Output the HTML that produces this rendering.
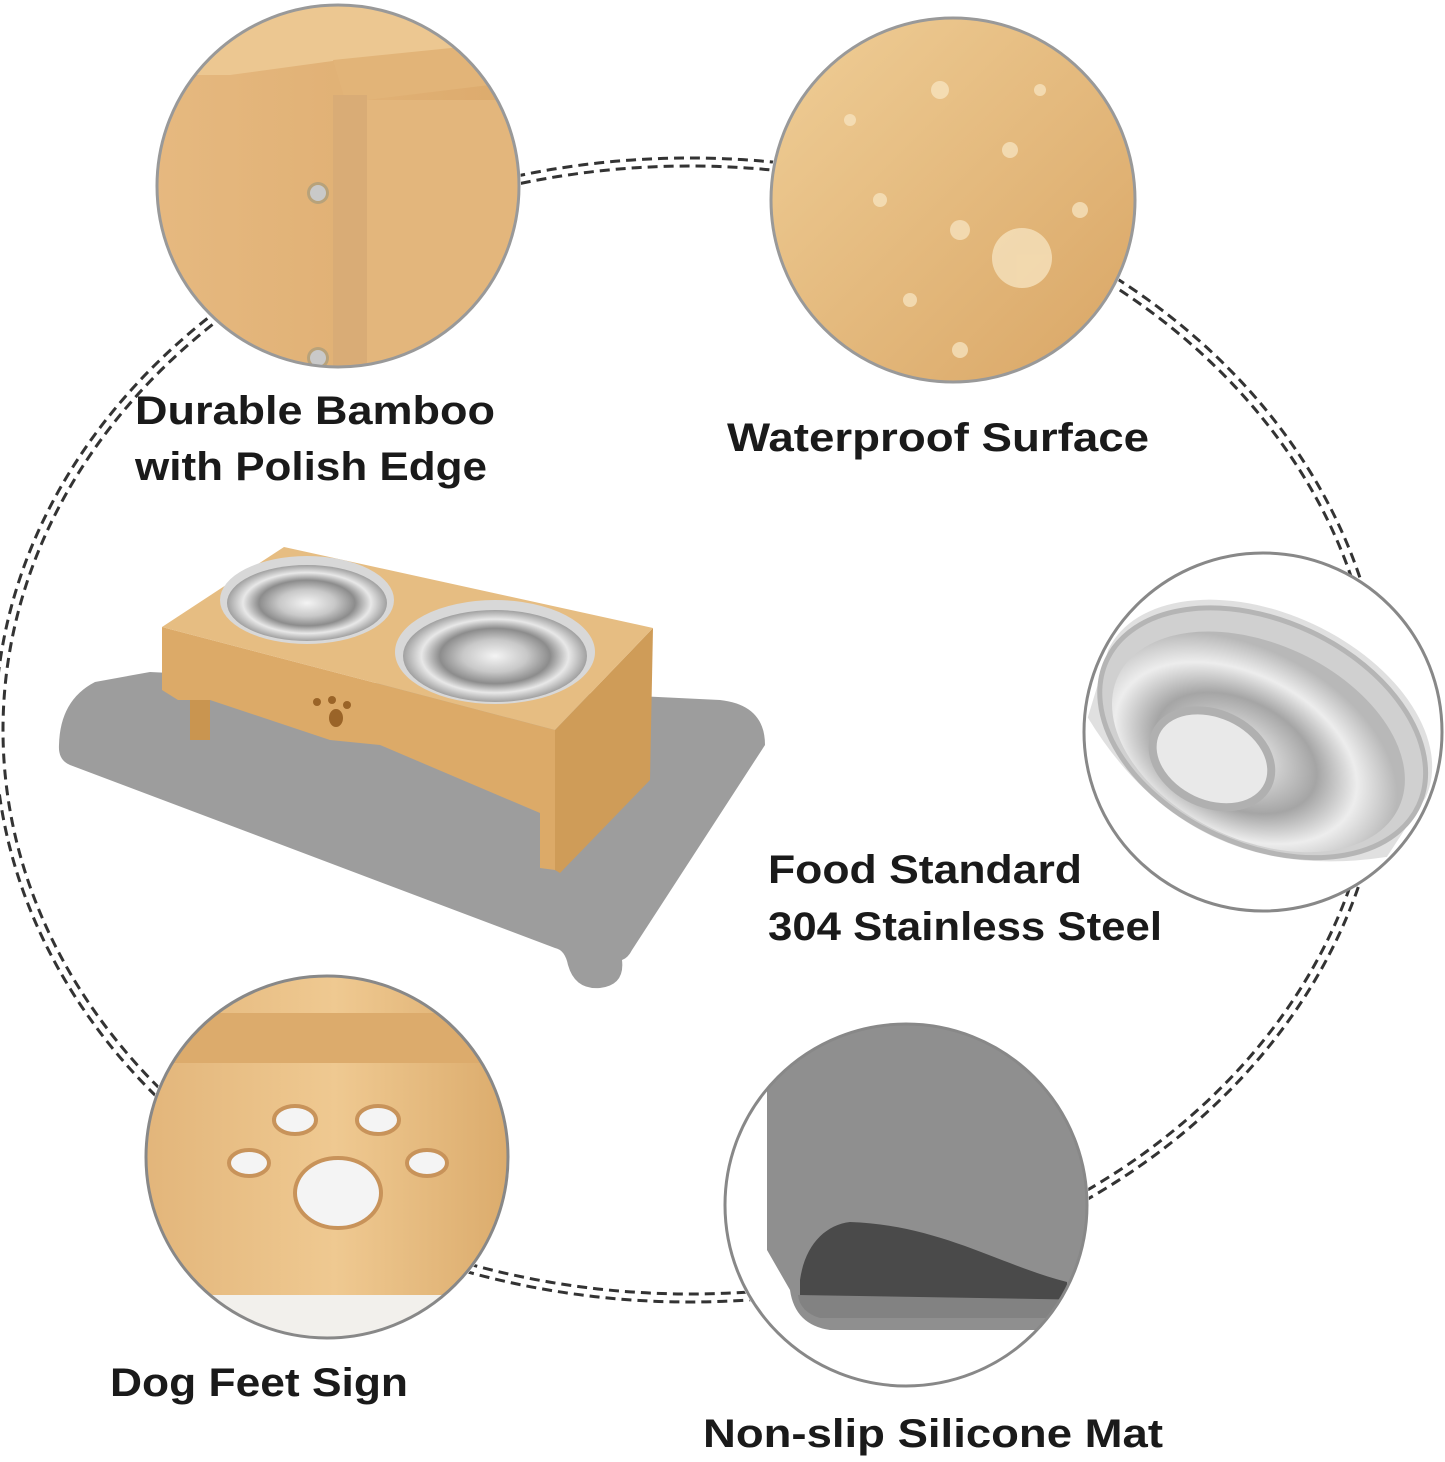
<!DOCTYPE html>
<html><head><meta charset="utf-8"><style>
html,body{margin:0;padding:0;background:#fff;width:1445px;height:1462px;overflow:hidden}
text{font-family:"Liberation Sans",sans-serif;font-weight:bold;fill:#1a1a1a}
</style></head><body>
<svg width="1445" height="1462" viewBox="0 0 1445 1462" xmlns="http://www.w3.org/2000/svg">
<defs>
<linearGradient id="bam" x1="0" y1="0" x2="1" y2="0">
<stop offset="0" stop-color="#e2b57a"/><stop offset="0.5" stop-color="#efc991"/><stop offset="1" stop-color="#d9a868"/></linearGradient>
<linearGradient id="bamL" x1="0" y1="0" x2="1" y2="0">
<stop offset="0" stop-color="#e6b980"/><stop offset="1" stop-color="#dcaa6c"/></linearGradient>
<linearGradient id="bam2" x1="0" y1="0" x2="1" y2="1">
<stop offset="0" stop-color="#f0cf98"/><stop offset="1" stop-color="#d8a463"/></linearGradient>
<radialGradient id="steel" cx="0.5" cy="0.5" r="0.5">
<stop offset="0" stop-color="#f4f4f4"/><stop offset="0.35" stop-color="#c8c8c8"/><stop offset="0.6" stop-color="#8c8c8c"/><stop offset="0.8" stop-color="#e8e8e8"/><stop offset="1" stop-color="#a0a0a0"/></radialGradient>
<radialGradient id="steel2" cx="0.45" cy="0.6" r="0.55">
<stop offset="0" stop-color="#f2f2f2"/><stop offset="0.25" stop-color="#d0d0d0"/><stop offset="0.5" stop-color="#a5a5a5"/><stop offset="0.75" stop-color="#ededed"/><stop offset="1" stop-color="#b8b8b8"/></radialGradient>
<clipPath id="c1"><circle cx="338" cy="186" r="181"/></clipPath>
<clipPath id="c2"><circle cx="953" cy="200" r="182"/></clipPath>
<clipPath id="c4"><circle cx="327" cy="1157" r="181"/></clipPath>
<clipPath id="c5"><circle cx="906" cy="1205" r="181"/></clipPath>
</defs>
<!-- dashed ellipse -->
<ellipse cx="690" cy="730" rx="695" ry="572" fill="none" stroke="#333" stroke-width="3" stroke-dasharray="10 6"/>
<ellipse cx="690" cy="730" rx="687" ry="564" fill="none" stroke="#333" stroke-width="3" stroke-dasharray="10 6"/>

<!-- circle 1 -->
<circle cx="338" cy="186" r="183" fill="#fff"/>
<g clip-path="url(#c1)">
<rect x="150" y="0" width="380" height="380" fill="url(#bamL)"/>
<polygon points="150,0 530,0 530,45 340,60 230,75 150,75" fill="#ecc791"/>
<polygon points="333,60 530,40 530,80 367,100 345,100" fill="#e2b478"/>
<rect x="333" y="95" width="34" height="290" fill="#d9ac76"/>
<rect x="367" y="100" width="170" height="290" fill="#e3b67c"/>
<circle cx="318" cy="193" r="11" fill="#b8a27a"/><circle cx="318" cy="193" r="8" fill="#c9c9c9"/>
<circle cx="318" cy="358" r="11" fill="#b8a27a"/><circle cx="318" cy="358" r="8" fill="#c9c9c9"/>
</g>
<circle cx="338" cy="186" r="181" fill="none" stroke="#999" stroke-width="3"/>

<!-- circle 2 -->
<circle cx="953" cy="200" r="184" fill="#fff"/>
<g clip-path="url(#c2)">
<rect x="760" y="10" width="390" height="390" fill="url(#bam2)"/>
<g fill="#f6e2bd" opacity="0.8">
<circle cx="1022" cy="258" r="30"/><circle cx="940" cy="90" r="9"/><circle cx="1010" cy="150" r="8"/><circle cx="880" cy="200" r="7"/><circle cx="960" cy="230" r="10"/><circle cx="850" cy="120" r="6"/><circle cx="1080" cy="210" r="8"/><circle cx="1040" cy="90" r="6"/><circle cx="910" cy="300" r="7"/><circle cx="960" cy="350" r="8"/></g>
</g>
<circle cx="953" cy="200" r="182" fill="none" stroke="#999" stroke-width="3"/>

<!-- circle 3 -->
<circle cx="1263" cy="732" r="179" fill="#fff" stroke="#888" stroke-width="3"/>
<g transform="rotate(25 1250 760)">
<path d="M1075 720 A175 110 0 0 1 1425 720 L1415 790 Q1250 900 1085 790Z" fill="#e0e0e0"/>
<ellipse cx="1250" cy="730" rx="172" ry="112" fill="#d0d0d0" stroke="#b5b5b5" stroke-width="5"/>
<ellipse cx="1250" cy="740" rx="155" ry="98" fill="url(#steel2)"/>
<ellipse cx="1215" cy="775" rx="62" ry="45" fill="#e9e9e9" stroke="#b0b0b0" stroke-width="8"/>
</g>

<!-- circle 4 -->
<circle cx="327" cy="1157" r="183" fill="#fff"/>
<g clip-path="url(#c4)">
<rect x="140" y="970" width="390" height="390" fill="url(#bam)"/>
<rect x="140" y="1013" width="390" height="50" fill="#dcab6c"/>
<rect x="140" y="1295" width="390" height="70" fill="#f2f0ec"/>
<g fill="#f4f4f4" stroke="#c8935a" stroke-width="4">
<ellipse cx="295" cy="1120" rx="21" ry="14"/><ellipse cx="378" cy="1120" rx="21" ry="14"/>
<ellipse cx="249" cy="1163" rx="20" ry="13"/><ellipse cx="427" cy="1163" rx="20" ry="13"/>
<ellipse cx="338" cy="1193" rx="43" ry="35"/></g>
</g>
<circle cx="327" cy="1157" r="181" fill="none" stroke="#888" stroke-width="3"/>

<!-- circle 5 -->
<circle cx="906" cy="1205" r="183" fill="#fff"/>
<g clip-path="url(#c5)">
<path d="M767 1000 H1100 V1280 L1100 1330 L830 1330 Q795 1325 790 1290 L767 1250Z" fill="#8f8f8f"/>
<path d="M800 1280 C805 1245 825 1225 850 1222 C940 1225 1000 1265 1067 1282 L1067 1300 L800 1300Z" fill="#4a4a4a"/>
<path d="M798 1295 L1100 1300 V1318 L820 1318 Q800 1312 798 1295Z" fill="#828282"/>
</g>
<circle cx="906" cy="1205" r="181" fill="none" stroke="#888" stroke-width="3"/>

<!-- central product: mat -->
<path d="M59 745 Q60 700 95 682 L150 672 L720 700 Q765 705 765 745 L632 950 Q628 958 622 960 Q625 985 600 988 Q575 990 568 965 Q565 950 555 948 L70 765 Q58 760 59 745Z" fill="#9d9d9d"/>
<!-- stand -->
<polygon points="190,690 210,690 210,740 190,740" fill="#c99550"/>
<polygon points="162,627 555,730 555,870 540,868 540,813 380,745 330,740 210,700 178,700 162,690" fill="#dcaa68"/>
<polygon points="555,730 653,628 650,780 560,873 555,870" fill="#cf9c58"/>
<polygon points="162,627 284,547 653,628 555,730" fill="#e6bd82"/>
<ellipse cx="307" cy="600" rx="87" ry="44" fill="#d8d8d8"/>
<ellipse cx="307" cy="603" rx="80" ry="38" fill="url(#steel)"/>
<ellipse cx="495" cy="652" rx="100" ry="52" fill="#d8d8d8"/>
<ellipse cx="495" cy="656" rx="92" ry="46" fill="url(#steel)"/>
<g fill="#9a6428"><circle cx="317" cy="702" r="4"/><circle cx="332" cy="700" r="4"/><circle cx="347" cy="705" r="4"/><ellipse cx="336" cy="718" rx="7" ry="9"/></g>

<!-- labels -->
<text x="135" y="424" font-size="40" textLength="360" lengthAdjust="spacingAndGlyphs">Durable Bamboo</text>
<text x="135" y="480" font-size="40" textLength="352" lengthAdjust="spacingAndGlyphs">with Polish Edge</text>
<text x="727" y="451" font-size="40" textLength="422" lengthAdjust="spacingAndGlyphs">Waterproof Surface</text>
<text x="768" y="883" font-size="40" textLength="314" lengthAdjust="spacingAndGlyphs">Food Standard</text>
<text x="768" y="940" font-size="40" textLength="394" lengthAdjust="spacingAndGlyphs">304 Stainless Steel</text>
<text x="110" y="1396" font-size="40" textLength="298" lengthAdjust="spacingAndGlyphs">Dog Feet Sign</text>
<text x="703" y="1447" font-size="40" textLength="460" lengthAdjust="spacingAndGlyphs">Non-slip Silicone Mat</text>
</svg>
</body></html>
